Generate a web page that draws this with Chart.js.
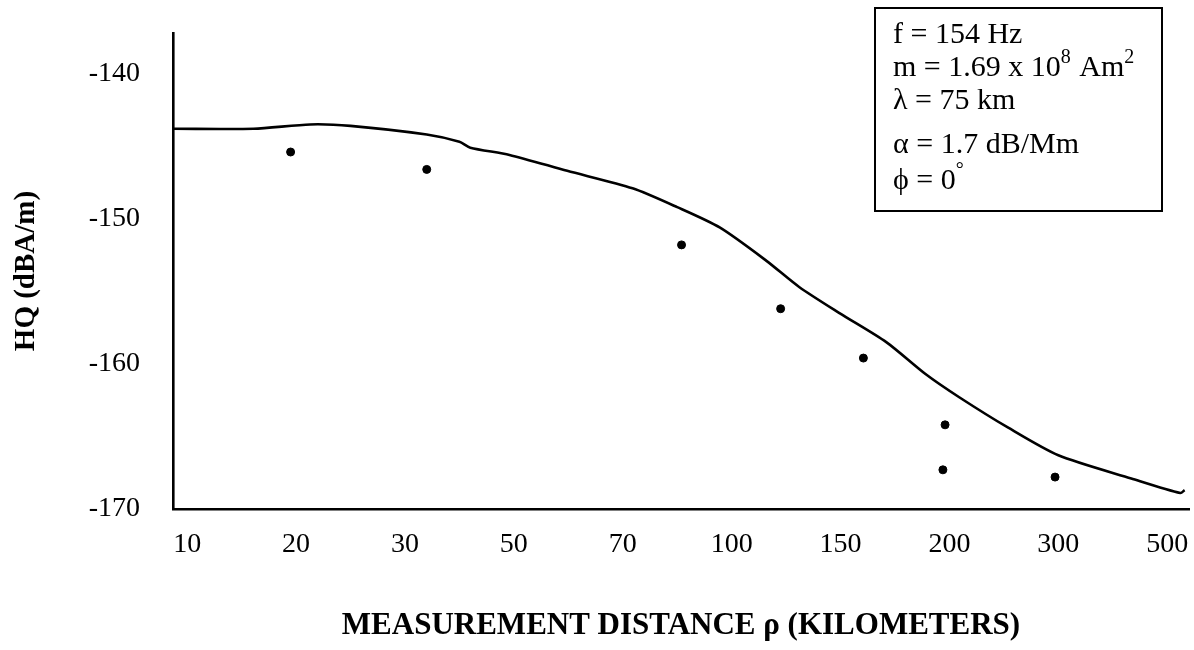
<!DOCTYPE html>
<html>
<head>
<meta charset="utf-8">
<title>HQ vs measurement distance</title>
<script src="https://cdn.jsdelivr.net/npm/chart.js@4/dist/chart.umd.min.js"></script>
<style>
  html, body { margin: 0; padding: 0; background: #fff; }
  #wrap { width: 1194px; height: 650px; }
</style>
</head>
<body>
<div id="wrap"><canvas id="hq" width="1194" height="650"></canvas></div>
<script>
// distance axis: labels sit on equally spaced slots (0..9)
const distanceLabels = ["10", "20", "30", "50", "70", "100", "150", "200", "300", "500"];
const hqTicks = [-170, -160, -150, -140];

// computed HQ curve, x = position along the distance slots
const modelSlot = [-0.13, 0.61, 1.13, 1.50, 2.20, 2.50, 2.60, 2.96, 3.49, 4.09, 4.50, 4.89,
  5.32, 5.62, 5.99, 6.42, 6.78, 7.09, 7.54, 8.00, 8.67, 9.12, 9.16];
const modelHQ = [-143.8, -143.8, -143.5, -143.6, -144.2, -144.7, -145.1, -145.6, -146.7, -147.9, -149.2, -150.6,
  -152.9, -154.7, -156.5, -158.5, -160.7, -162.3, -164.4, -166.3, -167.9, -168.9, -168.7];

// measured HQ values
const measuredSlot = [0.95, 2.20, 4.54, 5.45, 6.21, 6.96, 6.94, 7.97];
const measuredHQ = [-145.4, -146.6, -151.8, -156.2, -159.6, -164.2, -167.3, -167.8];

// parameter box lines, "sup" parts are raised
const paramLines = [
  [{ t: "f = 154 Hz" }],
  [{ t: "m = 1.69 x 10" }, { t: "8", sup: true }, { t: " Am" }, { t: "2", sup: true }],
  [{ t: "\u03bb = 75 km" }],
  [{ t: "\u03b1 = 1.7 dB/Mm" }],
  [{ t: "\u03d5 = 0" }, { t: "\u00b0", sup: true }],
];
const paramLineY = [35, 68, 101, 145, 181];

const SERIF = "'Liberation Serif', 'Times New Roman', 'DejaVu Serif', serif";
Chart.defaults.font.family = SERIF;
Chart.defaults.color = "#000";

const toPoints = (xs, ys) => xs.map((x, i) => ({ x, y: ys[i] }));

const paramBox = {
  id: "paramBox",
  afterDraw(chart) {
    const ctx = chart.ctx;
    ctx.save();
    ctx.strokeStyle = "#000";
    ctx.lineWidth = 2;
    ctx.strokeRect(875, 8, 287, 203);
    ctx.fillStyle = "#000";
    ctx.textBaseline = "middle";
    paramLines.forEach((parts, i) => {
      let x = 893;
      const y = paramLineY[i];
      parts.forEach((p) => {
        ctx.font = p.sup ? "20px " + SERIF : "30px " + SERIF;
        ctx.fillText(p.t, x, p.sup ? y - 10 : y);
        x += ctx.measureText(p.t).width + (p.sup ? 1 : 0);
      });
    });
    ctx.restore();
  },
};

new Chart(document.getElementById("hq"), {
  type: "scatter",
  data: {
    datasets: [
      {
        label: "model",
        data: toPoints(modelSlot, modelHQ),
        showLine: true,
        borderColor: "#000",
        borderWidth: 2.6,
        pointRadius: 0,
        tension: 0.25,
      },
      {
        label: "measured",
        data: toPoints(measuredSlot, measuredHQ),
        showLine: false,
        backgroundColor: "#000",
        borderColor: "#000",
        pointRadius: 4,
      },
    ],
  },
  options: {
    responsive: false,
    animation: false,
    layout: { padding: { top: 33, right: 4, left: 0, bottom: 0 } },
    plugins: { legend: { display: false }, tooltip: { enabled: false } },
    scales: {
      x: {
        type: "linear",
        min: -0.13,
        max: 9.2,
        afterBuildTicks: (scale) => {
          scale.ticks = distanceLabels.map((_, i) => ({ value: i }));
        },
        afterFit: (scale) => {
          scale.height = 141;
          scale.paddingLeft = 0;
          scale.paddingRight = 0;
        },
        ticks: {
          autoSkip: false,
          maxRotation: 0,
          padding: 19,
          font: { size: 28 },
          callback: (v) => distanceLabels[v] ?? "",
        },
        grid: { display: false, drawTicks: false },
        border: { display: true, color: "#000", width: 2.6 },
        title: {
          display: true,
          text: "MEASUREMENT DISTANCE \u03c1 (KILOMETERS)",
          font: { size: 31, weight: "bold" },
          padding: { top: 0, bottom: 5 },
        },
      },
      y: {
        type: "linear",
        min: -170,
        max: -137.2,
        afterBuildTicks: (scale) => {
          scale.ticks = hqTicks.map((v) => ({ value: v }));
        },
        afterFit: (scale) => {
          scale.width = 173;
          scale.paddingTop = 0;
          scale.paddingBottom = 0;
        },
        ticks: { padding: 33, font: { size: 28 } },
        grid: { display: false, drawTicks: false },
        border: { display: true, color: "#000", width: 2.6 },
        title: {
          display: true,
          text: "HQ (dBA/m)",
          font: { size: 29, weight: "bold" },
          padding: { top: 9, bottom: 0 },
        },
      },
    },
  },
  plugins: [paramBox],
});
</script>
</body>
</html>
